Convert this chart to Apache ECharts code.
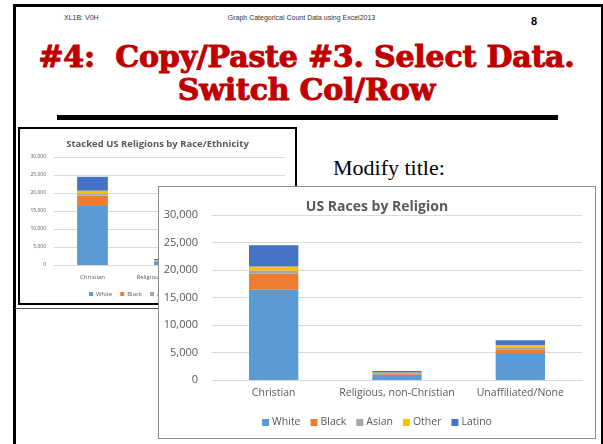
<!DOCTYPE html>
<html>
<head>
<meta charset="utf-8">
<script src="https://cdn.jsdelivr.net/npm/echarts@6/dist/echarts.min.js"></script>
<style>
  html, body { margin: 0; padding: 0; background: #fff; }
  .slide { position: relative; width: 603px; height: 444px; overflow: hidden; font-family: "Liberation Sans", Arial, sans-serif; }
  .frame { position: absolute; left: 13px; top: 4px; width: 585px; height: 460px; border: 3px solid #000; }
  .hdr { position: absolute; top: 14px; font-size: 7px; color: #333; }
  .pagenum { position: absolute; left: 531px; top: 15px; font-size: 11px; font-weight: bold; }
  .title { position: absolute; left: 5px; width: 603px; text-align: center; color: #c00000;
           font-family: "DejaVu Serif", serif; font-weight: bold; font-size: 30px; line-height: 32px;
           -webkit-text-stroke: 1px #c00000; letter-spacing: -0.2px; }
  .rule { position: absolute; left: 57px; top: 115px; width: 501px; height: 5px; background: #000; }
  .modify { position: absolute; left: 333px; top: 155px; font-family: "Liberation Serif", serif; font-size: 22px; color: #000; }
  .small-box { position: absolute; left: 18px; top: 127px; width: 275px; height: 174px; border: 2px solid #000; background: #fff; }
  .small-line { position: absolute; left: 15px; top: 308px; width: 143px; height: 1px; background: #555; }
  .big-box { position: absolute; left: 158px; top: 186px; width: 436px; height: 251px; border: 1px solid #8c8c8c; background: #fff; }
  .chart { position: absolute; left: 0; top: 0; width: 100%; height: 100%; }
</style>
</head>
<body>
<div class="slide">
  <div class="frame"></div>
  <div class="hdr" style="left:64px;">XL1B: V0H</div>
  <div class="hdr" style="left:0;width:603px;text-align:center;">Graph Categorical Count Data using Excel2013</div>
  <div class="pagenum">8</div>
  <div class="title" style="top:41px;">#4:&nbsp; Copy/Paste #3. Select Data.</div>
  <div class="title" style="top:74px;">Switch Col/Row</div>
  <div class="rule"></div>
  <div class="modify">Modify title:</div>
  <div class="small-line"></div>
  <div class="small-box"><div id="small" class="chart"></div></div>
  <div class="big-box"><div id="big" class="chart"></div></div>
</div>
<script>
// 类别和数据
const religions = ["Christian", "Religious, non-Christian", "Unaffiliated/None"];
const white  = [16400, 950, 4900];
const black  = [2900, 200, 700];
const asian  = [600, 150, 350];
const other  = [750, 50, 400];
const latino = [3850, 300, 900];
const yTicks = [0, 5000, 10000, 15000, 20000, 25000, 30000];

const raceNames  = ["White", "Black", "Asian", "Other", "Latino"];
const raceColors = ["#5b9bd5", "#ed7d31", "#a5a5a5", "#ffc000", "#4472c4"];
const raceData   = [white, black, asian, other, latino];

const fmt = v => v.toLocaleString("en-US");

// 公用的配置
function buildOption(s) {
  return {
    animation: false,
    color: raceColors,
    title: {
      text: s.title, left: "center", top: s.titleTop,
      textStyle: { fontFamily: "Open Sans", fontSize: s.titleSize, fontWeight: "bold", color: "#595959" }
    },
    legend: {
      data: raceNames, left: s.legendLeft, top: s.legendTop,
      icon: "rect", itemWidth: s.icon, itemHeight: s.icon, itemGap: s.legendGap,
      textStyle: { fontFamily: "Open Sans", fontSize: s.font, color: "#595959", padding: [0, 0, 0, -2] }
    },
    grid: s.grid,
    xAxis: {
      type: "category", data: religions,
      axisTick: { show: false },
      axisLine: { lineStyle: { color: "#d9d9d9", width: 1 } },
      axisLabel: { color: "#595959", fontFamily: "Open Sans", fontSize: s.font, margin: s.labelMargin, interval: 0 }
    },
    yAxis: {
      type: "value", min: yTicks[0], max: yTicks[yTicks.length - 1], interval: yTicks[1] - yTicks[0],
      axisLine: { show: false }, axisTick: { show: false },
      axisLabel: { color: "#595959", fontFamily: "Open Sans", fontSize: s.yFont, margin: s.yMargin, formatter: fmt },
      splitLine: { lineStyle: { color: "#d9d9d9", width: 1 } }
    },
    series: raceNames.map((name, i) => ({
      name: name, type: "bar", stack: "total", barWidth: "40%",
      data: raceData[i],
      itemStyle: { color: raceColors[i] }
    }))
  };
}

// 后面的小图
const small = echarts.init(document.getElementById("small"), null, { renderer: "canvas" });
small.setOption(buildOption({
  title: "Stacked US Religions by Race/Ethnicity", titleTop: 5, titleSize: 9.5,
  legendLeft: 64, legendTop: 157, icon: 4, legendGap: 8, font: 6, yFont: 5, yMargin: 8, labelMargin: 9,
  grid: { left: 34, right: 10, top: 28, bottom: 38 }
}));

// 前面的大图
const big = echarts.init(document.getElementById("big"), null, { renderer: "canvas" });
big.setOption(buildOption({
  title: "US Races by Religion", titleTop: 8, titleSize: 14,
  legendLeft: "center", legendTop: 225, icon: 7, legendGap: 10, font: 10.5, yFont: 11, yMargin: 14, labelMargin: 8,
  grid: { left: 53, right: 13, top: 28, bottom: 58 }
}));
</script>
</body>
</html>
